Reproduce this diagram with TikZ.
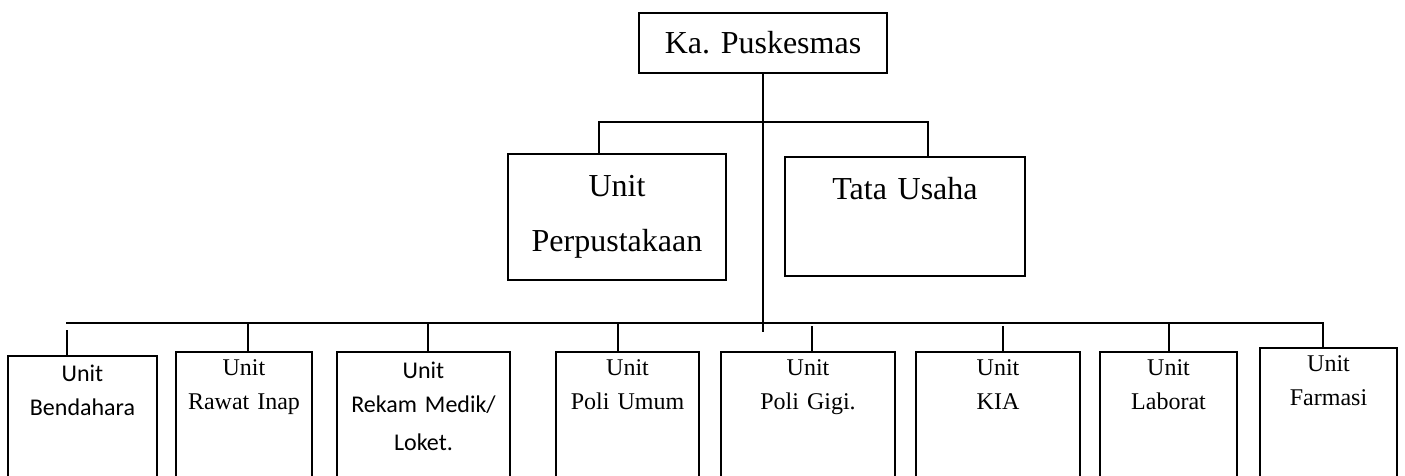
\documentclass[tikz,border=0pt]{standalone}
\usepackage{fontspec}
\setmainfont{Liberation Serif}
\newfontfamily\calibri{Carlito}
\newcommand\bigtxt{\fontsize{32}{55}\selectfont}
\newcommand\midtxt{\fontsize{24}{34}\selectfont}

\begin{document}
\begin{tikzpicture}[x=1pt, y=-1pt, line width=1.6pt,
  topbox/.style={draw, inner sep=0pt, anchor=base, align=center, font=\bigtxt},
  unitbox/.style={draw, inner sep=0pt, anchor=base, align=center, text height=23pt, text depth=130pt, font=\midtxt}]
\useasboundingbox (0,0) rectangle (1405,475);
\clip (0,0) rectangle (1405,475);

\node[draw, inner sep=0pt, minimum width=248pt, minimum height=60pt, font=\bigtxt] (ka) at (763,43) {Ka. Puskesmas};

\node[topbox, text width=218pt, text height=42pt, text depth=84pt] (perp) at (617,196) {Unit\\Perpustakaan};
\node[topbox, text width=240pt, text height=42pt, text depth=77pt] (tata) at (905,199) {Tata Usaha};

\node[unitbox, text width=149pt, text height=25pt, font=\midtxt\calibri] (bend) at (82.5,381) {Unit\\Bendahara};
\node[unitbox, text width=136pt] (rawat) at (244,375) {Unit\\Rawat Inap};
\node[unitbox, text width=173pt, text height=26pt, font=\midtxt\calibri] (rekam) at (423.5,378) {Unit\\Rekam Medik/\\[4pt]Loket.};
\node[unitbox, text width=143pt] (umum) at (627.5,375) {Unit\\Poli Umum};
\node[unitbox, text width=174pt] (gigi) at (808,375) {Unit\\Poli Gigi.};
\node[unitbox, text width=164pt] (kia) at (998,375) {Unit\\KIA};
\node[unitbox, text width=137pt] (lab) at (1168.5,375) {Unit\\Laborat};
\node[unitbox, text width=137pt] (farm) at (1328.5,371) {Unit\\Farmasi};

\coordinate (upbus) at (763,122);
\coordinate (mainend) at (763,332);
\coordinate (busleft) at (66,323);

\draw (ka.south) -- (mainend);
\draw ([xshift=-18pt]perp.north) |- (upbus) -| ([xshift=23pt]tata.north);
\draw (busleft) -| ([xshift=-5.5pt]farm.north);

\foreach \n/\dx/\len in {bend/-15.5/25, rawat/4/29, rekam/4.5/29, umum/-9.5/29, gigi/4/25, kia/5/25, lab/0.5/29}{
	\draw ([xshift=\dx pt]\n.north) -- ++(0,-\len);
}
\end{tikzpicture}
\end{document}
